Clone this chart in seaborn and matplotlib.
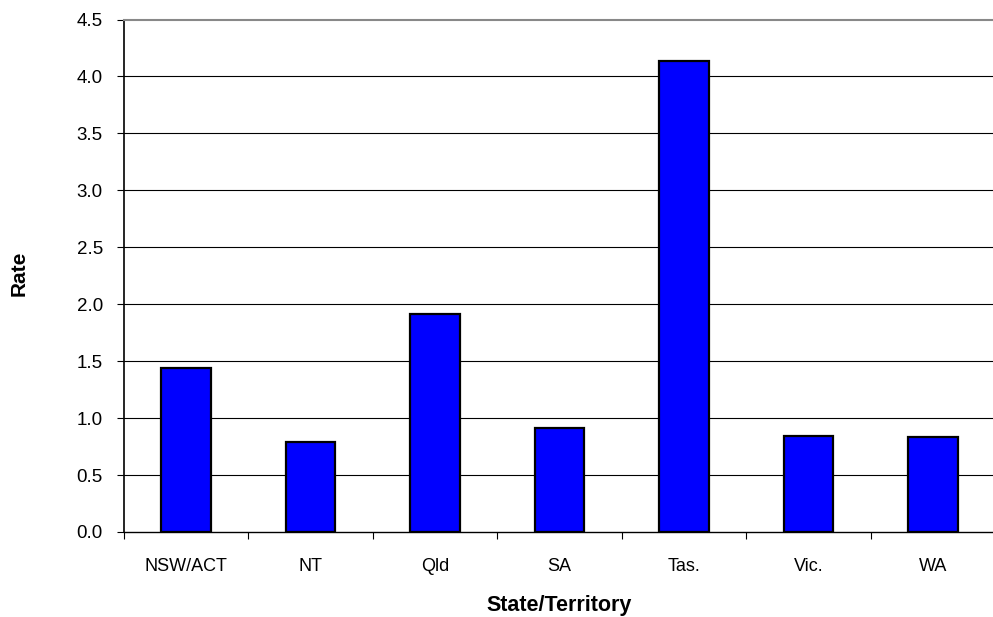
import matplotlib
matplotlib.use("Agg")
import matplotlib.pyplot as plt
from matplotlib.ticker import FixedLocator
import seaborn as sns
import pandas as pd

states = ["NSW/ACT", "NT", "Qld", "SA", "Tas.", "Vic.", "WA"]
rates = [1.44, 0.79, 1.91, 0.91, 4.14, 0.84, 0.83]
y_ticks = [0.0, 0.5, 1.0, 1.5, 2.0, 2.5, 3.0, 3.5, 4.0, 4.5]

df = pd.DataFrame({"State/Territory": states, "Rate": rates})

sns.set_theme(style="white")
plt.rcParams["font.family"] = ["Liberation Sans", "DejaVu Sans"]
plt.rcParams["text.color"] = "black"
plt.rcParams["axes.labelcolor"] = "black"
plt.rcParams["xtick.color"] = "black"
plt.rcParams["ytick.color"] = "black"

W, H = 993, 617
fig = plt.figure(figsize=(W / 100, H / 100), dpi=100)
left, right, top, bottom = 123.75, 995.25, 19.5, 532
ax = fig.add_axes([left / W, 1 - bottom / H, (right - left) / W, (bottom - top) / H])

sns.barplot(data=df, x="State/Territory", y="Rate", order=states, color="#0000FF",
            saturation=1, width=0.4, edgecolor="black", linewidth=1.6, ax=ax, zorder=3)

ax.set_ylim(0, 4.5)
ax.set_xlim(-0.5, len(states) - 0.5)
ax.set_yticks(y_ticks)
ax.set_yticklabels([f"{v:.1f}" for v in y_ticks], fontsize=13.5)
ax.set_xticks(range(len(states)))
ax.set_xticklabels(states, fontsize=13)
ax.xaxis.set_minor_locator(FixedLocator([i - 0.5 for i in range(len(states) + 1)]))
ax.tick_params(axis="x", which="major", length=0, pad=18.5)
ax.tick_params(axis="x", which="minor", length=5, width=0.8, color="black", direction="out", bottom=True)
ax.tick_params(axis="y", which="major", length=5, width=0.8, color="black", direction="out", left=True, pad=10)

for v in y_ticks[1:-1]:
    ax.axhline(v, color="black", linewidth=0.8, zorder=1)

ax.spines["right"].set_visible(False)
ax.spines["top"].set_color("#888888")
ax.spines["top"].set_linewidth(1.5)
ax.spines["left"].set_color("black")
ax.spines["left"].set_linewidth(1.2)
ax.spines["bottom"].set_color("black")
ax.spines["bottom"].set_linewidth(1.0)

ax.set_xlabel("State/Territory", fontsize=15.5, fontweight="bold")
ax.set_ylabel("Rate", fontsize=15, fontweight="bold")
ax.xaxis.label.set_va("center")
ax.yaxis.label.set_va("center")
plot_h = bottom - top
plot_w = right - left
ax.xaxis.set_label_coords(0.5, (bottom - 606) / plot_h)
ax.yaxis.set_label_coords((19 - left) / plot_w, (bottom - 273) / plot_h)

fig.savefig("out.png", dpi=100)
